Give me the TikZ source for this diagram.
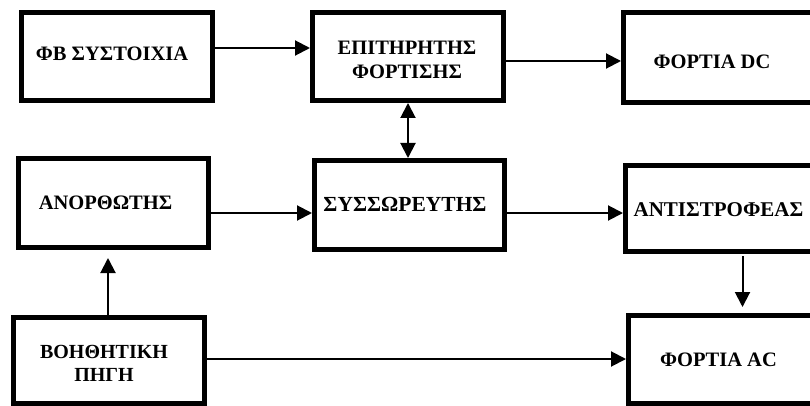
\documentclass[tikz,border=0pt]{standalone}
\usepackage{fontspec}
\setmainfont{Liberation Serif}
\usetikzlibrary{arrows.meta}
\begin{document}
\begin{tikzpicture}[x=1pt,y=-1pt,
  blockbox/.style={draw=black,line width=5pt,rectangle,inner sep=0pt,fill=none},
  lbl/.style={font=\bfseries\fontsize{20.5}{24}\selectfont,align=center,inner sep=0pt},
  arr/.style={line width=2pt,-{Triangle[length=15pt,width=15pt]}},
  darr/.style={line width=2pt,{Triangle[length=15pt,width=15pt]}-{Triangle[length=15pt,width=15pt]}}]
\useasboundingbox (0,0) rectangle (810,406);
\clip (0,0) rectangle (810,406);
% blocks (outline centre lines)
\node[blockbox,minimum width=191pt,minimum height=88pt] (pv)   at (117,56.5) {};
\node[blockbox,minimum width=191pt,minimum height=88pt] (ctrl) at (408,56.5) {};
\node[blockbox,minimum width=211pt,minimum height=90pt] (dc)   at (729,57.5) {};
\node[blockbox,minimum width=190pt,minimum height=89pt] (rect) at (113.5,203) {};
\node[blockbox,minimum width=190pt,minimum height=89pt] (batt) at (409.5,205) {};
\node[blockbox,minimum width=209pt,minimum height=86pt] (inv)  at (730,208.5) {};
\node[blockbox,minimum width=191pt,minimum height=86pt] (aux)  at (109,360.5) {};
\node[blockbox,minimum width=206pt,minimum height=88pt] (ac)   at (731.5,359.5) {};
% labels
\node[lbl] at (112,53.5) {ΦΒ ΣΥΣΤΟΙΧΙΑ};
\node[lbl] at (407,59.5) {ΕΠΙΤΗΡΗΤΗΣ\\ΦΟΡΤΙΣΗΣ};
\node[lbl] at (712,61.5) {ΦΟΡΤΙΑ DC};
\node[lbl] at (105.5,202.5) {ΑΝΟΡΘΩΤΗΣ};
\node[lbl,font=\bfseries\fontsize{21.5}{24}\selectfont] at (405,204.5) {ΣΥΣΣΩΡΕΥΤΗΣ};
\node[lbl,font=\bfseries\fontsize{21}{24}\selectfont] at (718.5,210) {ΑΝΤΙΣΤΡΟΦΕΑΣ};
\node[lbl,font=\bfseries\fontsize{20}{23}\selectfont] at (104,363) {ΒΟΗΘΗΤΙΚΗ\\ΠΗΓΗ};
\node[lbl] at (718.5,360) {ΦΟΡΤΙΑ AC};
% connector levels
\coordinate (r1) at (0,48);
\coordinate (r2) at (0,61);
\coordinate (r3) at (0,213);
\coordinate (r4) at (0,359);
\coordinate (c1) at (408,0);
\coordinate (c2) at (108,0);
\coordinate (c3) at (742.5,0);
% connectors
\draw[arr] (pv.east |- r1) -- (ctrl.west |- r1);
\draw[arr] (ctrl.east |- r2) -- (dc.west |- r2);
\draw[darr] (ctrl.south -| c1) -- (batt.north -| c1);
\draw[arr] (rect.east |- r3) -- (batt.west |- r3);
\draw[arr] (batt.east |- r3) -- (inv.west |- r3);
\draw[arr,shorten <=2pt,shorten >=6pt] (inv.south -| c3) -- (ac.north -| c3);
\draw[arr,shorten >=8pt] (aux.north -| c2) -- (rect.south -| c2);
\draw[arr] (aux.east |- r4) -- (ac.west |- r4);
\end{tikzpicture}
\end{document}
